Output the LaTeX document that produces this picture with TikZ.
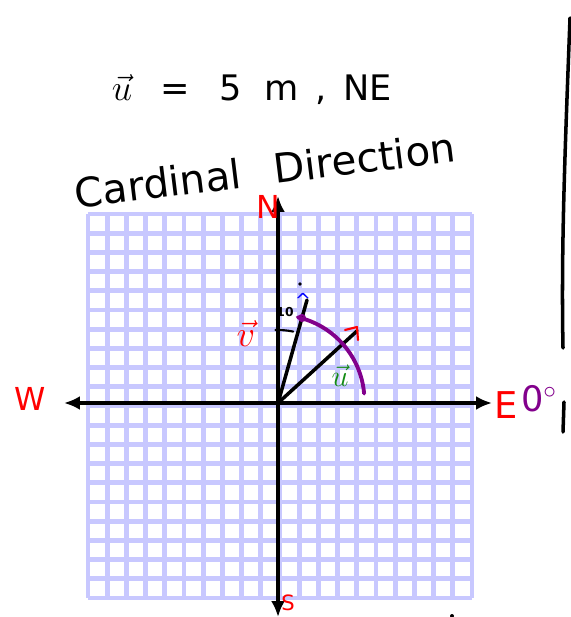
\documentclass[tikz,border=0pt]{standalone}
\usepackage{fontspec}
\setmainfont{DejaVu Sans}
\usepackage{xcolor}
\usetikzlibrary{arrows.meta,calc}
\definecolor{gridblue}{RGB}{200,200,255}
\definecolor{inkpurple}{RGB}{130,0,140}
\definecolor{inkgreen}{RGB}{20,140,20}
\tikzset{
  gridline/.style  = {draw=gridblue, line width=2.7pt},
  axisline/.style  = {draw=black, line width=2.2pt, -{Latex[length=3.2mm,width=2.8mm]}},
  vecline/.style   = {draw=black, line width=2pt, line cap=round},
  redlbl/.style    = {text=red, font=\fontsize{18}{18}\selectfont, inner sep=0pt},
  handtxt/.style   = {text=black, inner sep=0pt},
  inkpen/.style    = {line width=1.2pt, line cap=round, line join=round},
}

\begin{document}
\begin{tikzpicture}[x=0.02cm, y=-0.02cm]
  \useasboundingbox (0,0) rectangle (570,617);

  % grid paper, 20 x 20 cells
  \fill[white] (88,214) rectangle (472,598);
  \foreach \i in {0,...,20} {
    \draw[gridline] ({88+19.2*\i},214) -- ({88+19.2*\i},598);
    \draw[gridline] (88,{214+19.2*\i}) -- (472,{214+19.2*\i});
  }

  % headings
  \node[handtxt, font=\fontsize{20}{20}\selectfont] (title) at (252,90)
        {$\vec{u}$\,\,\, =\,\,\, 5\,\, m\, ,\, NE};
  \node[handtxt, font=\fontsize{23}{23}\selectfont, rotate=7] (cardinal) at (265,170)
        {Cardinal\,\,\, Direction};

  % axes
  \coordinate (O)    at (278,403);
  \coordinate (tipN) at (278,196);
  \coordinate (tipS) at (278,617);
  \coordinate (tipW) at (64,403);
  \coordinate (tipE) at (492,403);
  \draw[axisline] (O) -- (tipN);
  \draw[axisline] (O) -- (tipS);
  \draw[axisline] (O) -- (tipW);
  \draw[axisline] (O) -- (tipE);

  \node[redlbl] (lblN) at (268,207) {N};
  \node[redlbl] (lblW) at (30,399)  {W};
  \node[redlbl, font=\fontsize{21}{21}\selectfont] (lblE) at (506,405) {E};
  \node[redlbl, font=\fontsize{12}{12}\selectfont] (lblS) at (288,603) {S};
  \node[text=inkpurple, font=\fontsize{20}{20}\selectfont, inner sep=0pt] (deg) at (539,399) {0$^{\circ}$};

  % vectors
  \coordinate (tipV) at (307,300);
  \coordinate (tipU) at (357,331);
  \draw[vecline] (O) -- (tipV);
  \draw[vecline] (O) -- (tipU);
  \draw[red, inkpen] (345,330) -- (357,327) -- (358,340);

  % angle marks
  \draw[black, inkpen] ([shift={(-92:73)}]O) arc[start angle=-92, end angle=-78, radius=73];
  \draw[inkpurple, line width=2.2pt, line cap=round] ([shift={(-77:88)}]O) arc[start angle=-77, end angle=-5, radius=86];
  \draw[inkpurple, inkpen] (302,318) circle[radius=3];
  \node[handtxt, font=\fontsize{7}{7}\selectfont\bfseries] (ten) at (285,312) {10};
  \fill[black] (300,284) circle[radius=1.8];
  \node[text=blue, font=\fontsize{11}{11}\selectfont, inner sep=0pt] (hat) at (303,300) {\^{}};

  % vector labels
  \node[text=red, font=\fontsize{20}{20}\selectfont, inner sep=0pt] (lblV) at (246,334) {$\vec{v}$};
  \node[text=inkgreen, font=\fontsize{18}{18}\selectfont, inner sep=0pt] (lblU) at (340,376) {$\vec{u}$};

  % margin strokes
  \draw[black, line width=2pt, line cap=round] (570,18) .. controls (565,150) and (561,250) .. (563,348);
  \draw[black, line width=2pt, line cap=round] (564,402) -- (563,432);
  \fill[black] (452,616) circle[radius=2];
\end{tikzpicture}
\end{document}
